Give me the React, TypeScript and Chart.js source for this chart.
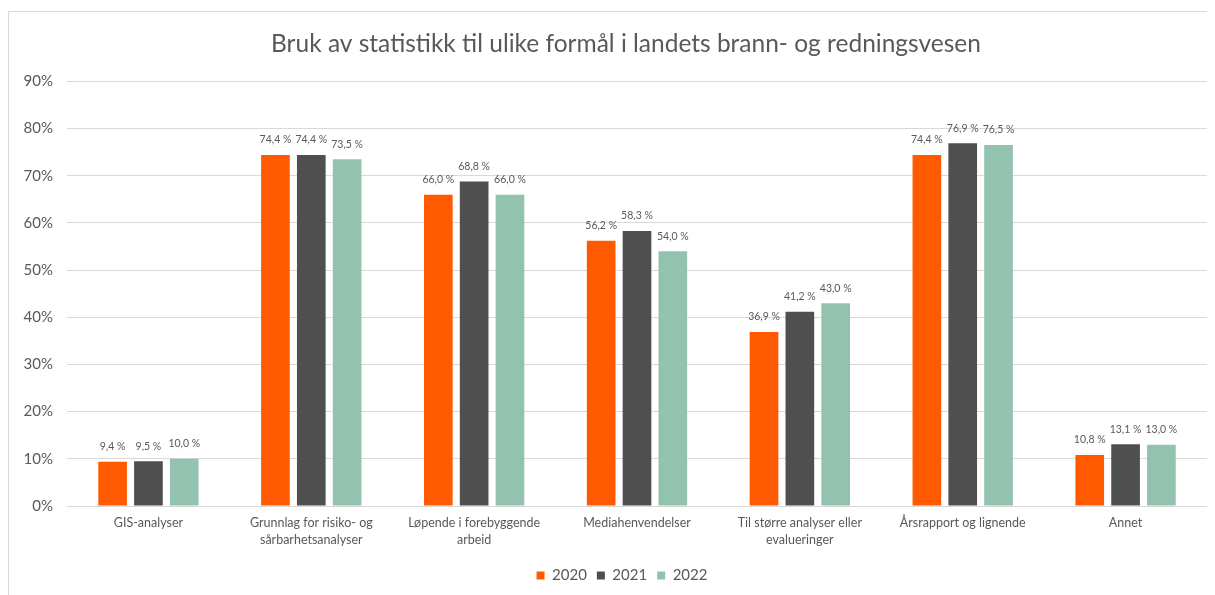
import React, { useEffect, useRef } from "react";
import { Chart, registerables } from "chart.js";

Chart.register(...registerables);

const categories: (string | string[])[] = [
  "GIS-analyser",
  ["Grunnlag for risiko- og", "sårbarhetsanalyser"],
  ["Løpende i forebyggende", "arbeid"],
  "Mediahenvendelser",
  ["Til større analyser eller", "evalueringer"],
  "Årsrapport og lignende",
  "Annet",
];
const values2020 = [9.4, 74.4, 66.0, 56.2, 36.9, 74.4, 10.8];
const values2021 = [9.5, 74.4, 68.8, 58.3, 41.2, 76.9, 13.1];
const values2022 = [10.0, 73.5, 66.0, 54.0, 43.0, 76.5, 13.0];
const seriesLabels = ["2020", "2021", "2022"];
const titleText = "Bruk av statistikk til ulike formål i landets brann- og redningsvesen";

const FONT = "Lato";
const TEXT = "#595959";

const dataLabelPlugin = {
  id: "dataLabels",
  afterDatasetsDraw(chart: any) {
    const ctx = chart.ctx;
    ctx.save();
    ctx.font = `10.5px ${FONT}`;
    ctx.fillStyle = TEXT;
    ctx.textAlign = "center";
    ctx.textBaseline = "middle";
    chart.data.datasets.forEach((ds: any, i: number) => {
      const meta = chart.getDatasetMeta(i);
      meta.data.forEach((bar: any, j: number) => {
        const v = ds.data[j] as number;
        const txt = v.toFixed(1).replace(".", ",") + " %";
        ctx.fillText(txt, bar.x, bar.y - 15);
      });
    });
    ctx.restore();
  },
};

const shiftPlugin = {
  id: "blockShift",
  afterLayout(chart: any) {
    if (chart.legend) {
      chart.legend.left += 14;
      chart.legend.right += 14;
    }
    if (chart.titleBlock) {
      chart.titleBlock.left += 18;
      chart.titleBlock.right += 18;
    }
  },
};

export default function App() {
  const ref = useRef<HTMLCanvasElement | null>(null);
  useEffect(() => {
    if (!ref.current) return;
    const chart = new Chart(ref.current, {
      type: "bar",
      data: {
        labels: categories,
        datasets: [
          { label: seriesLabels[0], data: values2020, backgroundColor: "#FF5A00" },
          { label: seriesLabels[1], data: values2021, backgroundColor: "#4F4F4F" },
          { label: seriesLabels[2], data: values2022, backgroundColor: "#93C2AE" },
        ],
      },
      options: {
        animation: false,
        responsive: true,
        maintainAspectRatio: false,
        layout: { padding: { left: 0, right: 8, top: 0, bottom: 2 } },
        datasets: {
          bar: { categoryPercentage: 0.66, barPercentage: 0.8 },
        },
        plugins: {
          title: {
            display: true,
            text: titleText,
            color: TEXT,
            font: { family: FONT, size: 24.5, weight: "normal" },
            padding: { top: 17, bottom: 23 },
          },
          legend: {
            position: "bottom",
            labels: {
              color: TEXT,
              font: { family: FONT, size: 15 },
              boxWidth: 8,
              boxHeight: 8,
              padding: 10,
            },
          },
          tooltip: { enabled: false },
        },
        scales: {
          x: {
            grid: { display: false },
            border: { display: false },
            ticks: {
              color: TEXT,
              font: { family: FONT, size: 12.5, lineHeight: 1.4 },
              padding: 0,
              maxRotation: 0,
              autoSkip: false,
            },
            afterFit: (s: any) => {
              s.height = 52;
            },
          },
          y: {
            min: 0,
            max: 90,
            grid: { color: "#D9D9D9", drawTicks: false },
            border: { display: false },
            ticks: {
              stepSize: 10,
              color: TEXT,
              font: { family: FONT, size: 15 },
              padding: 14,
              callback: (v: any) => v + "%",
            },
            afterFit: (s: any) => {
              s.width = 58;
            },
          },
        },
      },
      plugins: [dataLabelPlugin, shiftPlugin],
    });
    return () => chart.destroy();
  }, []);
  return (
    <div style={{ paddingTop: 3 }}>
      <div
        style={{
          position: "relative",
          width: 1206,
          height: 583,
          borderLeft: "1px solid #D9D9D9",
          borderTop: "1px solid #D9D9D9",
          background: "#fff",
        }}
      >
        <canvas ref={ref} />
      </div>
    </div>
  );
}
